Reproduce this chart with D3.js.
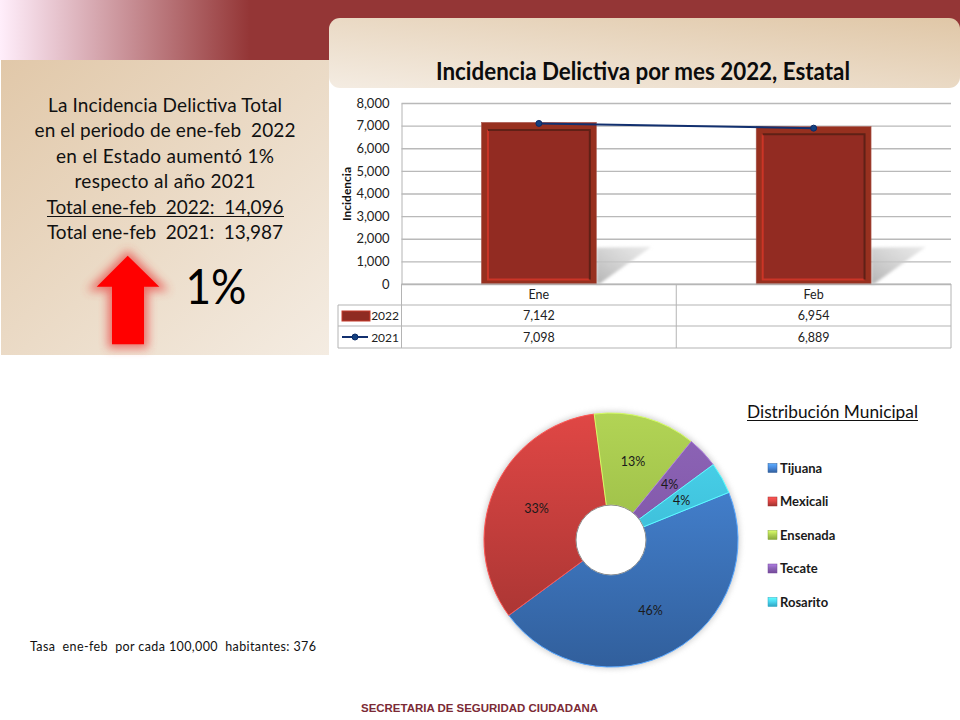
<!DOCTYPE html>
<html>
<head>
<meta charset="utf-8">
<script src="https://cdn.jsdelivr.net/npm/d3@7"></script>
<style>
body { margin: 0; background: #fff; }
svg { display: block; font-family: Lato, "Open Sans", sans-serif; }
</style>
</head>
<body>
<div id="chart"></div>
<script>
// datos
var meses = ["Ene", "Feb"];
var valores2022 = [7142, 6954];
var valores2021 = [7098, 6889];
var ticksY = [0, 1000, 2000, 3000, 4000, 5000, 6000, 7000, 8000];
var municipios = ["Tijuana", "Mexicali", "Ensenada", "Tecate", "Rosarito"];
var porcentajes = [46, 33, 13, 4, 4];
var coloresPie = [
  ["#4a8cdf", "#315f9c"],
  ["#e04745", "#9f3230"],
  ["#b2d455", "#87a83b"],
  ["#8e66b8", "#75499a"],
  ["#4cd8f0", "#2fa5c2"]
];
var lineasTexto = [
  "La Incidencia Delictiva Total",
  "en el periodo de ene-feb  2022",
  "en el Estado aumentó 1%",
  "respecto al año 2021",
  "Total ene-feb  2022:  14,096",
  "Total ene-feb  2021:  13,987"
];
var anchosTexto = [234, 261, 218, 181, 237, 236];

var svg = d3.select("#chart").append("svg").attr("width", 960).attr("height", 720);
var defs = svg.append("defs");

function gradiente(id, x1, y1, x2, y2, stops, user) {
  var g = defs.append("linearGradient").attr("id", id)
    .attr("x1", x1).attr("y1", y1).attr("x2", x2).attr("y2", y2);
  if (user) g.attr("gradientUnits", "userSpaceOnUse");
  stops.forEach(function(s) {
    g.append("stop").attr("offset", s[0]).attr("stop-color", s[1]).attr("stop-opacity", s[2] === undefined ? 1 : s[2]);
  });
}
function blur(id, dev) {
  defs.append("filter").attr("id", id)
    .attr("x", "-30%").attr("y", "-30%").attr("width", "160%").attr("height", "160%")
    .append("feGaussianBlur").attr("stdDeviation", dev);
}
gradiente("banda", 0, 0, 1, 0, [[0, "#ffeefb"], [0.26, "#943636"], [1, "#943636"]]);
gradiente("panelIzq", 0, 0, 1, 1, [[0, "#e1c8a9"], [1, "#f4ece2"]]);
gradiente("panelDer", 0, 1, 1, 0, [[0, "#f4ece2"], [1, "#e0c7a7"]]);
gradiente("sombra", 0, 1, 1, 0, [[0, "#b4b4b4"], [1, "#dcdcdc", 0.6]]);
blur("glow", 5);
blur("suave", 1.5);
blur("sombraPie", 3);

// fondo
svg.append("rect").attr("width", 960).attr("height", 60).attr("fill", "url(#banda)");
svg.append("rect").attr("x", 1).attr("y", 60).attr("width", 328).attr("height", 295).attr("fill", "url(#panelIzq)");
svg.append("rect").attr("x", 329).attr("y", 18).attr("width", 631).attr("height", 70).attr("rx", 11).attr("fill", "url(#panelDer)");

// texto izquierdo
svg.selectAll(".linea").data(lineasTexto).enter().append("text")
  .attr("class", "linea")
  .attr("x", 165)
  .attr("y", function(d, i) { return 112 + i * 25.4; })
  .attr("text-anchor", "middle")
  .attr("font-size", 19)
  .attr("fill", "#111")
  .attr("xml:space", "preserve")
  .attr("textLength", function(d, i) { return anchosTexto[i]; })
  .attr("lengthAdjust", "spacing")
  .text(function(d) { return d; });
svg.append("line").attr("x1", 47).attr("x2", 284).attr("y1", 216.5).attr("y2", 216.5).attr("stroke", "#111").attr("stroke-width", 1);

// flecha
var flecha = "M127.7,255.7 L159.3,286.7 L144,286.7 L144,344.3 L112,344.3 L112,286.7 L96.7,286.7 Z";
svg.append("path").attr("d", flecha).attr("fill", "#e8413c").attr("stroke", "#e8413c").attr("stroke-width", 8).attr("opacity", 0.7).attr("filter", "url(#glow)");
svg.append("path").attr("d", flecha).attr("fill", "#ff0000");
svg.append("text").attr("x", 216).attr("y", 304).attr("text-anchor", "middle").attr("font-size", 49).attr("fill", "#000")
  .attr("textLength", 61).attr("lengthAdjust", "spacingAndGlyphs").text("1%");

// titulo
svg.append("text").attr("x", 643).attr("y", 80).attr("text-anchor", "middle").attr("font-size", 24).attr("font-weight", 700).attr("fill", "#0c0c0c")
  .attr("textLength", 414).attr("lengthAdjust", "spacingAndGlyphs").text("Incidencia Delictiva por mes 2022, Estatal");

// barras + linea
var plot = { left: 401.5, right: 951, top: 103, bottom: 284 };
var x = d3.scaleBand().domain(meses).range([plot.left, plot.right]);
var y = d3.scaleLinear().domain([0, 8000]).range([plot.bottom, plot.top]);
var anchoBarra = x.bandwidth() * 0.418;
var xBarra = function(i) { return x(meses[i]) + (x.bandwidth() - anchoBarra) / 2; };

var ejeY = svg.append("g")
  .attr("transform", "translate(" + plot.left + ",0)")
  .call(d3.axisLeft(y).tickValues(ticksY).tickFormat(d3.format(",")).tickSize(-(plot.right - plot.left)).tickPadding(12));
ejeY.select(".domain").attr("stroke", "#b4b4b4");
ejeY.selectAll(".tick line").attr("stroke", "#b9b9b9").attr("stroke-width", 1.4);
ejeY.selectAll(".tick text").attr("font-family", "Lato").attr("font-size", 13).attr("fill", "#222");

svg.append("text").attr("transform", "translate(351,194) rotate(-90)").attr("text-anchor", "middle")
  .attr("font-size", 12).attr("font-weight", 700).attr("fill", "#111").text("Incidencia");

var grupos = svg.selectAll(".barra").data(valores2022).enter().append("g").attr("class", "barra");
grupos.append("path")
  .attr("d", function(d, i) {
    var r = xBarra(i) + anchoBarra;
    return "M" + r + "," + y(1600) + " L" + (r + 55) + "," + y(1650) + " L" + (r + 3) + "," + y(0) + " L" + r + "," + y(0) + " Z";
  })
  .attr("fill", "url(#sombra)").attr("filter", "url(#suave)");
grupos.append("rect")
  .attr("x", function(d, i) { return xBarra(i); })
  .attr("y", function(d) { return y(d); })
  .attr("width", anchoBarra)
  .attr("height", function(d) { return y(0) - y(d); })
  .attr("fill", "#97301f").attr("stroke", "#a8574c").attr("stroke-width", 0.6);
grupos.append("rect")
  .attr("x", function(d, i) { return xBarra(i) + 7; })
  .attr("y", function(d) { return y(d) + 8; })
  .attr("width", anchoBarra - 14)
  .attr("height", function(d) { return y(0) - y(d) - 13; })
  .attr("fill", "#922b22");
// bisel: claro izquierda y abajo, oscuro arriba y derecha
grupos.append("path")
  .attr("d", function(d, i) {
    var a = xBarra(i) + 6.5, b = xBarra(i) + anchoBarra - 6.5;
    return "M" + a + "," + (y(d) + 7.5) + " V" + (y(0) - 4.5) + " H" + b;
  })
  .attr("fill", "none").attr("stroke", "#cb3527").attr("stroke-width", 2);
grupos.append("path")
  .attr("d", function(d, i) {
    var a = xBarra(i) + 6.5, b = xBarra(i) + anchoBarra - 6.5;
    return "M" + a + "," + (y(d) + 7.5) + " H" + b + " V" + (y(0) - 4.5);
  })
  .attr("fill", "none").attr("stroke", "#5f2016").attr("stroke-width", 2);

var linea = d3.line()
  .x(function(d, i) { return x(meses[i]) + x.bandwidth() / 2; })
  .y(function(d) { return y(d); });
svg.append("path").datum(valores2021).attr("d", linea).attr("fill", "none").attr("stroke", "#12306f").attr("stroke-width", 2);
svg.selectAll(".punto").data(valores2021).enter().append("circle").attr("class", "punto")
  .attr("cx", function(d, i) { return x(meses[i]) + x.bandwidth() / 2; })
  .attr("cy", function(d) { return y(d); })
  .attr("r", 3).attr("fill", "#12407f").attr("stroke", "#0c2a66").attr("stroke-width", 1);

// tabla de datos
var filasY = [284, 305, 326, 348];
var tablaLeft = 338;
var colTabla = "#b4b4b4";
var tabla = svg.append("g");
filasY.forEach(function(fy, i) {
  tabla.append("line").attr("x1", i === 0 ? plot.left : tablaLeft).attr("x2", plot.right).attr("y1", fy).attr("y2", fy)
    .attr("stroke", colTabla).attr("stroke-width", i === 0 ? 1 : 1.2);
});
[plot.left, x(meses[1]), plot.right].forEach(function(cx) {
  tabla.append("line").attr("x1", cx).attr("x2", cx).attr("y1", filasY[0]).attr("y2", filasY[3]).attr("stroke", colTabla);
});
tabla.append("line").attr("x1", tablaLeft).attr("x2", tablaLeft).attr("y1", filasY[1]).attr("y2", filasY[3]).attr("stroke", colTabla);

var filasTabla = [meses, valores2022.map(d3.format(",")), valores2021.map(d3.format(","))];
filasTabla.forEach(function(fila, f) {
  fila.forEach(function(t, c) {
    tabla.append("text")
      .attr("x", x(meses[c]) + x.bandwidth() / 2)
      .attr("y", (filasY[f] + filasY[f + 1]) / 2 + 4.5)
      .attr("text-anchor", "middle").attr("font-size", 12.5).attr("fill", "#222").text(t);
  });
});
["2022", "2021"].forEach(function(t, i) {
  tabla.append("text").attr("x", 399).attr("y", (filasY[i + 1] + filasY[i + 2]) / 2 + 4.5)
    .attr("text-anchor", "end").attr("font-size", 12).attr("fill", "#222").text(t);
});
tabla.append("rect").attr("x", 342).attr("y", 311).attr("width", 28).attr("height", 10).attr("fill", "#8f2b22").attr("stroke", "#c63a2a").attr("stroke-width", 1);
tabla.append("line").attr("x1", 342).attr("x2", 368).attr("y1", 337).attr("y2", 337).attr("stroke", "#12306f").attr("stroke-width", 2);
tabla.append("circle").attr("cx", 355).attr("cy", 337).attr("r", 3).attr("fill", "#12407f").attr("stroke", "#0c2a66");

// pastel
var cx = 611, cy = 540, rExt = 127, rInt = 35;
coloresPie.forEach(function(c, i) {
  gradiente("pie" + i, 0, -rExt, 0, rExt, [[0, c[0]], [1, c[1]]], true);
  gradiente("ley" + i, 0, 0, 0, 1, [[0, d3.color(c[0]).brighter(0.6)], [0.45, c[0]], [1, c[1]]]);
});
var inicio = 68 * Math.PI / 180;
var pie = d3.pie().sort(null).startAngle(inicio).endAngle(inicio + 2 * Math.PI);
var arc = d3.arc().innerRadius(rInt).outerRadius(rExt);
var gPie = svg.append("g").attr("transform", "translate(" + cx + "," + cy + ")");
gPie.append("path")
  .attr("d", d3.arc().innerRadius(rInt).outerRadius(rExt + 1).startAngle(0).endAngle(2 * Math.PI)())
  .attr("fill", "#999").attr("opacity", 0.55).attr("filter", "url(#sombraPie)");
var arcos = pie(porcentajes);
gPie.selectAll(".slice").data(arcos).enter().append("path").attr("class", "slice")
  .attr("d", arc)
  .attr("fill", function(d, i) { return "url(#pie" + i + ")"; })
  .attr("stroke", function(d, i) { return d3.color(coloresPie[i][0]).brighter(0.5); })
  .attr("stroke-width", 1);
gPie.append("circle").attr("r", rInt).attr("fill", "#fff").attr("stroke", "#8a8a8a").attr("stroke-width", 1);
gPie.selectAll(".pct").data(arcos).enter().append("text").attr("class", "pct")
  .attr("transform", function(d) { return "translate(" + arc.centroid(d) + ")"; })
  .attr("text-anchor", "middle").attr("dy", "0.35em")
  .attr("font-size", 12.5).attr("fill", "#1a1a1a")
  .text(function(d) { return d.data + "%"; });

// leyenda
var leyenda = svg.selectAll(".ley").data(municipios).enter().append("g").attr("class", "ley")
  .attr("transform", function(d, i) { return "translate(768," + (468 + i * 33.5) + ")"; });
leyenda.append("rect").attr("x", 0).attr("y", -4.5).attr("width", 9).attr("height", 9)
  .attr("fill", function(d, i) { return "url(#ley" + i + ")"; })
  .attr("stroke", function(d, i) { return coloresPie[i][1]; }).attr("stroke-width", 0.5);
leyenda.append("text").attr("x", 12).attr("y", 4.5).attr("font-size", 13).attr("font-weight", 700).attr("fill", "#1a1a1a").text(function(d) { return d; });

svg.append("text").attr("x", 747).attr("y", 418).attr("font-size", 17).attr("fill", "#111")
  .attr("textLength", 171).attr("lengthAdjust", "spacingAndGlyphs").text("Distribución Municipal");
svg.append("line").attr("x1", 747).attr("x2", 918).attr("y1", 420.5).attr("y2", 420.5).attr("stroke", "#111");

svg.append("text").attr("x", 30).attr("y", 651).attr("font-size", 12.5).attr("fill", "#111").attr("xml:space", "preserve")
  .attr("textLength", 286).attr("lengthAdjust", "spacing").text("Tasa  ene-feb  por cada 100,000  habitantes: 376");

svg.append("text").attr("x", 361).attr("y", 711.5).attr("font-family", "Liberation Sans").attr("font-size", 11).attr("font-weight", 700).attr("fill", "#7b2a35")
  .attr("textLength", 237).attr("lengthAdjust", "spacingAndGlyphs").text("SECRETARIA DE SEGURIDAD CIUDADANA");
</script>
</body>
</html>
